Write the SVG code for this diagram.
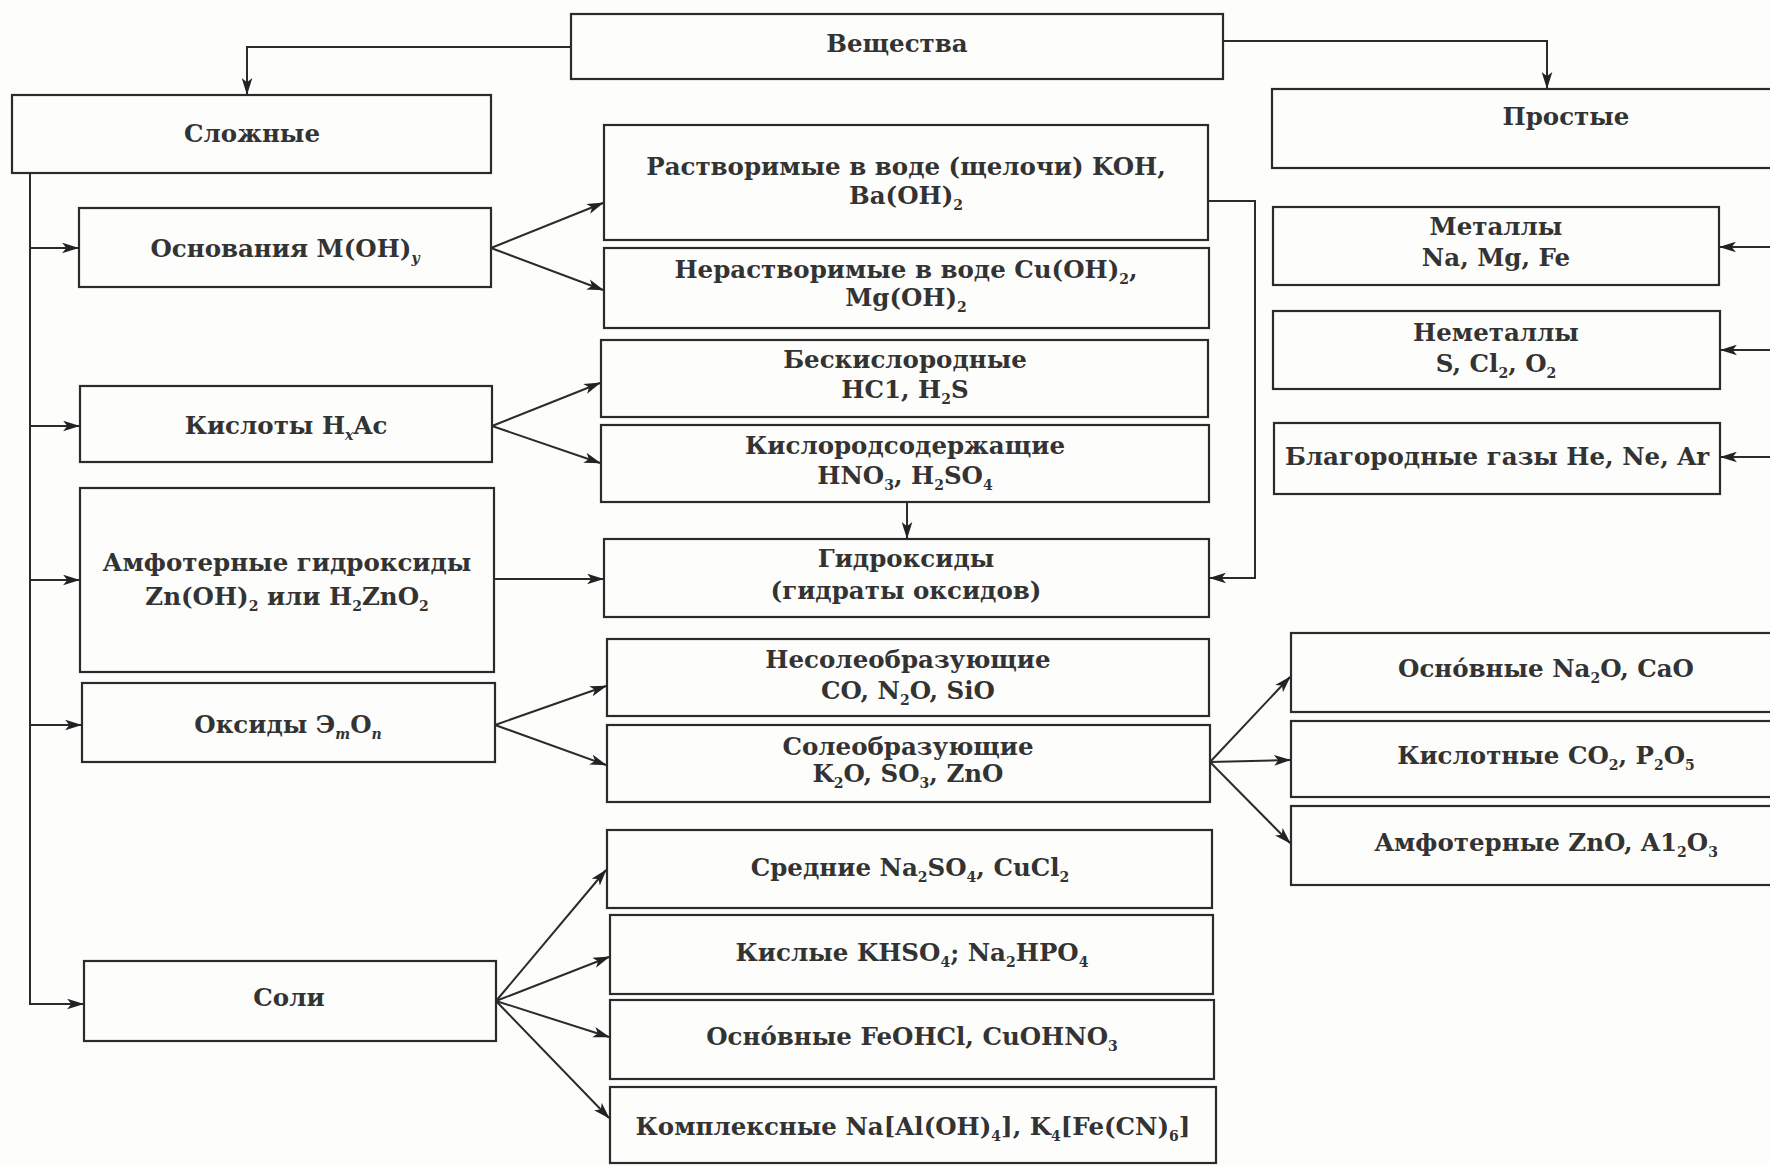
<svg xmlns="http://www.w3.org/2000/svg" width="1770" height="1166" viewBox="0 0 1770 1166">
<style>
rect.b{fill:#fdfdfb;stroke:#2b2b2b;stroke-width:2.2}
text{font-family:"DejaVu Serif","Liberation Serif",serif;font-size:24.5px;font-weight:bold;fill:#333;text-anchor:middle}
tspan.s{font-size:14px}
tspan.i{font-style:italic}
#connectors path{fill:none;stroke:#2b2b2b;stroke-width:2}
</style>
<defs>
<marker id="ah" viewBox="0 0 16 10" refX="15" refY="5" markerWidth="17" markerHeight="11" markerUnits="userSpaceOnUse" orient="auto">
<path d="M0,0 L16,5 L0,10 L4,5 z" fill="#222"/>
</marker>
</defs>
<rect width="1770" height="1166" fill="#fdfdfb"/>

<g id="veshchestva"><rect class="b" x="571" y="14" width="652" height="65"/><text x="897" y="52">Вещества</text></g>
<g id="slozhnye"><rect class="b" x="12" y="95" width="479" height="78"/><text x="252" y="142">Сложные</text></g>
<g id="prostye"><rect class="b" x="1272" y="89" width="510" height="79"/><text x="1566" y="125">Простые</text></g>

<g id="osnovaniya"><rect class="b" x="79" y="208" width="412" height="79"/><text x="285" y="257">Основания M(OH)<tspan class="s i" dy="6">y</tspan></text></g>
<g id="rastvorimye"><rect class="b" x="604" y="125" width="604" height="115"/><text x="906" y="175">Растворимые в воде (щелочи) KOH,</text><text x="906" y="204">Ba(OH)<tspan class="s" dy="6">2</tspan></text></g>
<g id="nerastvorimye"><rect class="b" x="604" y="248" width="605" height="80"/><text x="906" y="278">Нерастворимые в воде Cu(OH)<tspan class="s" dy="6">2</tspan><tspan dy="-6">,</tspan></text><text x="906" y="306">Mg(OH)<tspan class="s" dy="6">2</tspan></text></g>

<g id="metally"><rect class="b" x="1273" y="207" width="446" height="78"/><text x="1496" y="235">Металлы</text><text x="1496" y="266">Na, Mg, Fe</text></g>
<g id="nemetally"><rect class="b" x="1273" y="311" width="447" height="78"/><text x="1496" y="341">Неметаллы</text><text x="1496" y="372">S, Cl<tspan class="s" dy="6">2</tspan><tspan dy="-6">, O</tspan><tspan class="s" dy="6">2</tspan></text></g>
<g id="blagorodnye"><rect class="b" x="1274" y="423" width="446" height="71"/><text x="1497" y="465">Благородные газы He, Ne, Ar</text></g>

<g id="kisloty"><rect class="b" x="80" y="386" width="412" height="76"/><text x="286" y="434">Кислоты H<tspan class="s i" dy="6">x</tspan><tspan dy="-6">Ac</tspan></text></g>
<g id="beskislorodnye"><rect class="b" x="601" y="340" width="607" height="77"/><text x="905" y="368">Бескислородные</text><text x="905" y="398">HC1, H<tspan class="s" dy="6">2</tspan><tspan dy="-6">S</tspan></text></g>
<g id="kislorodsoderzhashchie"><rect class="b" x="601" y="425" width="608" height="77"/><text x="905" y="454">Кислородсодержащие</text><text x="905" y="484">HNO<tspan class="s" dy="6">3</tspan><tspan dy="-6">, H</tspan><tspan class="s" dy="6">2</tspan><tspan dy="-6">SO</tspan><tspan class="s" dy="6">4</tspan></text></g>

<g id="amfoternye-gidroksidy"><rect class="b" x="80" y="488" width="414" height="184"/><text x="287" y="571">Амфотерные гидроксиды</text><text x="287" y="605">Zn(OH)<tspan class="s" dy="6">2</tspan><tspan dy="-6"> или H</tspan><tspan class="s" dy="6">2</tspan><tspan dy="-6">ZnO</tspan><tspan class="s" dy="6">2</tspan></text></g>
<g id="gidroksidy"><rect class="b" x="604" y="539" width="605" height="78"/><text x="906" y="567">Гидроксиды</text><text x="906" y="599">(гидраты оксидов)</text></g>

<g id="oksidy"><rect class="b" x="82" y="683" width="413" height="79"/><text x="288" y="733">Оксиды Э<tspan class="s i" dy="6">m</tspan><tspan dy="-6">O</tspan><tspan class="s i" dy="6">n</tspan></text></g>
<g id="nesoleobrazuyushchie"><rect class="b" x="607" y="639" width="602" height="77"/><text x="908" y="668">Несолеобразующие</text><text x="908" y="699">CO, N<tspan class="s" dy="6">2</tspan><tspan dy="-6">O, SiO</tspan></text></g>
<g id="soleobrazuyushchie"><rect class="b" x="607" y="725" width="603" height="77"/><text x="908" y="755">Солеобразующие</text><text x="908" y="782">K<tspan class="s" dy="6">2</tspan><tspan dy="-6">O, SO</tspan><tspan class="s" dy="6">3</tspan><tspan dy="-6">, ZnO</tspan></text></g>

<g id="osnovnye-oksidy"><rect class="b" x="1291" y="633" width="490" height="79"/><text x="1546" y="677">Осно́вные Na<tspan class="s" dy="6">2</tspan><tspan dy="-6">O, CaO</tspan></text></g>
<g id="kislotnye-oksidy"><rect class="b" x="1291" y="721" width="490" height="76"/><text x="1546" y="764">Кислотные CO<tspan class="s" dy="6">2</tspan><tspan dy="-6">, P</tspan><tspan class="s" dy="6">2</tspan><tspan dy="-6">O</tspan><tspan class="s" dy="6">5</tspan></text></g>
<g id="amfoternye-oksidy"><rect class="b" x="1291" y="806" width="490" height="79"/><text x="1546" y="851">Амфотерные ZnO, A1<tspan class="s" dy="6">2</tspan><tspan dy="-6">O</tspan><tspan class="s" dy="6">3</tspan></text></g>

<g id="soli"><rect class="b" x="84" y="961" width="412" height="80"/><text x="289" y="1006">Соли</text></g>
<g id="srednie"><rect class="b" x="607" y="830" width="605" height="78"/><text x="910" y="876">Средние Na<tspan class="s" dy="6">2</tspan><tspan dy="-6">SO</tspan><tspan class="s" dy="6">4</tspan><tspan dy="-6">, CuCl</tspan><tspan class="s" dy="6">2</tspan></text></g>
<g id="kislye"><rect class="b" x="610" y="915" width="603" height="79"/><text x="912" y="961">Кислые KHSO<tspan class="s" dy="6">4</tspan><tspan dy="-6">; Na</tspan><tspan class="s" dy="6">2</tspan><tspan dy="-6">HPO</tspan><tspan class="s" dy="6">4</tspan></text></g>
<g id="osnovnye-soli"><rect class="b" x="610" y="1000" width="604" height="79"/><text x="912" y="1045">Осно́вные FeOHCl, CuOHNO<tspan class="s" dy="6">3</tspan></text></g>
<g id="kompleksnye"><rect class="b" x="610" y="1087" width="606" height="76"/><text x="913" y="1135">Комплексные Na[Al(OH)<tspan class="s" dy="6">4</tspan><tspan dy="-6">], K</tspan><tspan class="s" dy="6">4</tspan><tspan dy="-6">[Fe(CN)</tspan><tspan class="s" dy="6">6</tspan><tspan dy="-6">]</tspan></text></g>

<g id="connectors">
<path d="M571,47 H247 V94" marker-end="url(#ah)"/>
<path d="M1223,41 H1547 V88" marker-end="url(#ah)"/>
<path d="M30,173 V1004 H83" marker-end="url(#ah)"/>
<path d="M30,248 H78" marker-end="url(#ah)"/>
<path d="M30,426 H79" marker-end="url(#ah)"/>
<path d="M30,580 H79" marker-end="url(#ah)"/>
<path d="M30,725 H81" marker-end="url(#ah)"/>
<path d="M491,248 L603,203" marker-end="url(#ah)"/>
<path d="M491,248 L603,290" marker-end="url(#ah)"/>
<path d="M492,426 L600,383" marker-end="url(#ah)"/>
<path d="M492,426 L600,463" marker-end="url(#ah)"/>
<path d="M494,579 H603" marker-end="url(#ah)"/>
<path d="M907,502 V538" marker-end="url(#ah)"/>
<path d="M1208,201 H1255 V578 H1210" marker-end="url(#ah)"/>
<path d="M495,725 L606,686" marker-end="url(#ah)"/>
<path d="M495,725 L606,765" marker-end="url(#ah)"/>
<path d="M1210,762 L1290,677" marker-end="url(#ah)"/>
<path d="M1210,762 L1290,760" marker-end="url(#ah)"/>
<path d="M1210,762 L1290,843" marker-end="url(#ah)"/>
<path d="M496,1001 L606,870" marker-end="url(#ah)"/>
<path d="M496,1001 L609,957" marker-end="url(#ah)"/>
<path d="M496,1001 L609,1037" marker-end="url(#ah)"/>
<path d="M496,1001 L609,1118" marker-end="url(#ah)"/>
<path d="M1770,247 H1720" marker-end="url(#ah)"/>
<path d="M1770,350 H1721" marker-end="url(#ah)"/>
<path d="M1770,457 H1721" marker-end="url(#ah)"/>
</g>
</svg>
